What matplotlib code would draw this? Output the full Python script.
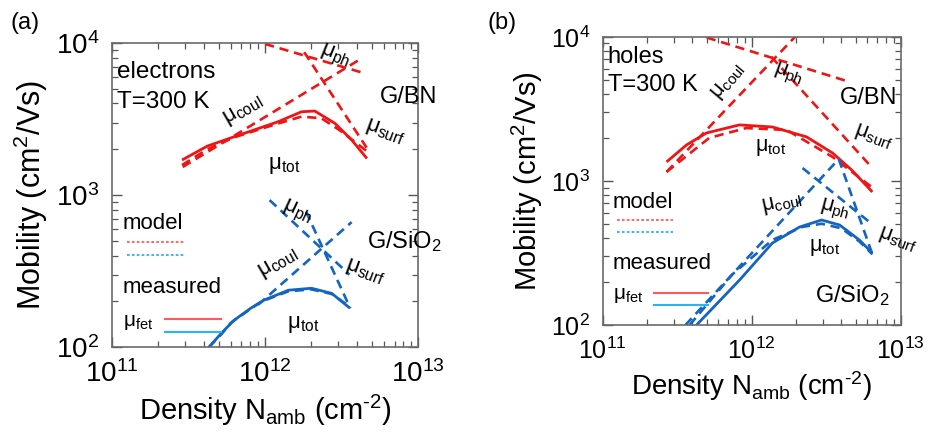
import numpy as np
import matplotlib
matplotlib.use("Agg")
import matplotlib.pyplot as plt

plt.rcParams["font.family"] = ["Liberation Sans", "DejaVu Sans"]
plt.rcParams["mathtext.fontset"] = "custom"
plt.rcParams["mathtext.rm"] = "Liberation Sans"
plt.rcParams["mathtext.it"] = "Liberation Sans:italic"
plt.rcParams["mathtext.default"] = "regular"

RED = "#f01414"
BLUE = "#1464c0"
LEG_RED = "#ff5a5a"
LEG_CYAN = "#2ab4f0"

# ---- (a) electrons ----
a_bn_meas_n = [2.87e11, 4.2e11, 6.3e11, 1.21e12, 1.73e12, 2.11e12, 2.86e12, 3.68e12, 4.62e12]
a_bn_meas_mu = [1700, 2100, 2420, 3030, 3530, 3570, 2960, 2300, 1740]
a_bn_tot_n = [2.87e11, 4.2e11, 6.3e11, 1.21e12, 1.73e12, 2.33e12, 3.05e12, 4.6e12]
a_bn_tot_mu = [1575, 2000, 2400, 2950, 3280, 3200, 2680, 1950]
a_bn_coul_n, a_bn_coul_mu = [2.9e11, 4.1e12], [1530, 7730]
a_bn_ph_n, a_bn_ph_mu = [1.0e12, 4.5e12], [9850, 6300]
a_bn_surf_n, a_bn_surf_mu = [1.8e12, 4.6e12], [8700, 2050]

a_si_meas_n = [4.3e11, 5.2e11, 6.25e11, 8.1e11, 9.85e11, 1.42e12, 2.01e12, 2.72e12, 3.57e12]
a_si_meas_mu = [100, 124, 150, 181, 204, 237, 244, 226, 181]
a_si_tot_n = [4.3e11, 5.2e11, 6.0e11, 8.0e11, 9.5e11, 1.42e12, 2.0e12, 2.72e12, 3.57e12]
a_si_tot_mu = [100, 122, 145, 178, 200, 233, 240, 224, 185]
a_si_coul_n, a_si_coul_mu = [9.0e11, 3.67e12], [190, 664]
a_si_ph_n, a_si_ph_mu = [1.07e12, 3.55e12], [927, 300]
a_si_surf_n, a_si_surf_mu = [1.85e12, 3.6e12], [780, 180]

# ---- (b) holes ----
b_bn_meas_n = [2.69e11, 3.66e11, 4.98e11, 8.3e11, 1.38e12, 2.34e12, 3.5e12, 4.7e12, 6.47e12]
b_bn_meas_mu = [1356, 1778, 2154, 2450, 2370, 2024, 1563, 1192, 839]
b_bn_tot_n = [2.69e11, 5.2e11, 9.2e11, 1.72e12, 3.5e12, 6.47e12]
b_bn_tot_mu = [1155, 1990, 2330, 2260, 1468, 900]
b_bn_coul_n, b_bn_coul_mu = [2.69e11, 2.1e12], [1155, 10800]
b_bn_ph_n, b_bn_ph_mu = [5.0e11, 4.55e12], [9900, 4870]
b_bn_surf_n, b_bn_surf_mu = [1.36e12, 6.2e12], [7260, 1292]

b_si_meas_n = [4.27e11, 8.3e11, 1.38e12, 2.1e12, 2.95e12, 3.9e12, 5.3e12, 6.47e12]
b_si_meas_mu = [100, 205, 371, 479, 536, 495, 389, 316]
b_si_tot_n = [3.84e11, 7.45e11, 1.38e12, 2.2e12, 2.95e12, 4.0e12, 5.3e12, 6.47e12]
b_si_tot_mu = [100, 225, 390, 480, 505, 470, 380, 310]
b_si_coul_n, b_si_coul_mu = [3.6e11, 3.85e12], [100, 1420]
b_si_ph_n, b_si_ph_mu = [2.2e12, 6.47e12], [1230, 500]
b_si_surf_n, b_si_surf_mu = [3.85e12, 6.47e12], [1420, 310]

# label positions (density, mobility, rotation)
a_labels = [
    (r"$\mu_{ph}$", 2.84e12, 8090, -22),
    (r"$\mu_{coul}$", 7.17e11, 3620, 30),
    (r"$\mu_{surf}$", 6.07e12, 2600, -20),
    (r"$\mu_{tot}$", 1.33e12, 1575, 0),
    (r"$\mu_{ph}$", 1.62e12, 763, -25),
    (r"$\mu_{coul}$", 1.22e12, 357, 30),
    (r"$\mu_{surf}$", 4.48e12, 311, -20),
    (r"$\mu_{tot}$", 1.78e12, 140, 0),
]
b_labels = [
    (r"$\mu_{coul}$", 7.0e11, 4870, 50),
    (r"$\mu_{ph}$", 1.75e12, 5450, -20),
    (r"$\mu_{surf}$", 6.59e12, 2023, -20),
    (r"$\mu_{tot}$", 1.34e12, 1694, 0),
    (r"$\mu_{coul}$", 1.59e12, 703, 12),
    (r"$\mu_{ph}$", 3.6e12, 629, -15),
    (r"$\mu_{surf}$", 9.55e12, 389, -20),
    (r"$\mu_{tot}$", 3.09e12, 348, 0),
]

DASH = (0, (3.5, 2.2))


def draw_set(ax, color, meas, tot, comps):
    ax.plot(meas[0], meas[1], color=color, lw=2.0, solid_capstyle="butt")
    ax.plot(tot[0], tot[1], color=color, lw=1.9, ls=DASH)
    for n, mu in comps:
        ax.plot(n, mu, color=color, lw=1.9, ls=DASH)


def style_axes(ax, fs_tick, fs_lab, lab_pad):
    ax.set_xscale("log")
    ax.set_yscale("log")
    ax.set_xlim(1e11, 1e13)
    ax.set_ylim(1e2, 1e4)
    for s in ax.spines.values():
        s.set_color("#6a6a6a")
        s.set_linewidth(1.2)
    ax.tick_params(which="both", direction="in", top=True, right=True, color="#555555")
    ax.tick_params(which="major", length=7, width=1.0, labelsize=fs_tick, pad=9)
    ax.tick_params(which="minor", length=4, width=0.9)
    ax.set_xlabel("Density N$_{amb}$ (cm$^{\u2010 2}$)", fontsize=fs_lab, labelpad=lab_pad)
    ax.set_ylabel(r"Mobility (cm$^{2}$/Vs)", fontsize=fs_lab + 1, labelpad=lab_pad)


def legend_block(ax, ys, fs):
    y_model, y_md1, y_md2, y_meas, y_fet, y_ms1, y_ms2 = ys
    ax.text(0.035, y_model, "model", transform=ax.transAxes, fontsize=fs, va="center")
    ax.plot([0.05, 0.235], [y_md1, y_md1], transform=ax.transAxes, color=LEG_RED,
            lw=1.3, ls=(0, (1.5, 1.2)))
    ax.plot([0.05, 0.235], [y_md2, y_md2], transform=ax.transAxes, color=LEG_CYAN,
            lw=1.3, ls=(0, (1.5, 1.2)))
    ax.text(0.035, y_meas, "measured", transform=ax.transAxes, fontsize=fs, va="center")
    ax.text(0.035, y_fet, r"$\mu_{fet}$", transform=ax.transAxes, fontsize=fs - 1, va="center")
    ax.plot([0.174, 0.355], [y_ms1, y_ms1], transform=ax.transAxes, color=LEG_RED, lw=1.5)
    ax.plot([0.174, 0.355], [y_ms2, y_ms2], transform=ax.transAxes, color=LEG_CYAN, lw=1.5)


fig = plt.figure(figsize=(9.4, 4.34), dpi=100)
ax1 = fig.add_axes([0.119, 0.200, 0.326, 0.701])
ax2 = fig.add_axes([0.641, 0.251, 0.317, 0.664])

# panel (a)
draw_set(ax1, RED, (a_bn_meas_n, a_bn_meas_mu), (a_bn_tot_n, a_bn_tot_mu),
         [(a_bn_coul_n, a_bn_coul_mu), (a_bn_ph_n, a_bn_ph_mu), (a_bn_surf_n, a_bn_surf_mu)])
draw_set(ax1, BLUE, (a_si_meas_n, a_si_meas_mu), (a_si_tot_n, a_si_tot_mu),
         [(a_si_coul_n, a_si_coul_mu), (a_si_ph_n, a_si_ph_mu), (a_si_surf_n, a_si_surf_mu)])
style_axes(ax1, 20, 21, 4)
for txt, n, mu, rot in a_labels:
    ax1.text(n, mu, txt, fontsize=16, rotation=rot, ha="center", va="center",
             rotation_mode="anchor", clip_on=False)
ax1.text(0.016, 0.905, "electrons", transform=ax1.transAxes, fontsize=17.5, va="center")
ax1.text(0.016, 0.806, "T=300 K", transform=ax1.transAxes, fontsize=17.5, va="center")
ax1.text(5.62e12, 4415, "G/BN", fontsize=17, va="center", clip_on=False)
ax1.text(4.62e12, 498, r"G/SiO$_2$", fontsize=17, va="center", clip_on=False)
legend_block(ax1, [0.408, 0.345, 0.303, 0.197, 0.082, 0.092, 0.049], 16)

# panel (b)
draw_set(ax2, RED, (b_bn_meas_n, b_bn_meas_mu), (b_bn_tot_n, b_bn_tot_mu),
         [(b_bn_coul_n, b_bn_coul_mu), (b_bn_ph_n, b_bn_ph_mu), (b_bn_surf_n, b_bn_surf_mu)])
draw_set(ax2, BLUE, (b_si_meas_n, b_si_meas_mu), (b_si_tot_n, b_si_tot_mu),
         [(b_si_coul_n, b_si_coul_mu), (b_si_ph_n, b_si_ph_mu), (b_si_surf_n, b_si_surf_mu)])
style_axes(ax2, 18, 20, 4)
for txt, n, mu, rot in b_labels:
    ax2.text(n, mu, txt, fontsize=15.5, rotation=rot, ha="center", va="center",
             rotation_mode="anchor", clip_on=False)
ax2.text(0.017, 0.93, "holes", transform=ax2.transAxes, fontsize=17, va="center")
ax2.text(0.017, 0.833, "T=300 K", transform=ax2.transAxes, fontsize=17, va="center")
ax2.text(3.9e12, 3770, "G/BN", fontsize=17, va="center")
ax2.text(2.65e12, 161, r"G/SiO$_2$", fontsize=17, va="center")
legend_block(ax2, [0.427, 0.365, 0.323, 0.215, 0.104, 0.111, 0.069], 16)

fig.text(0.011, 0.947, "(a)", fontsize=17, va="center")
fig.text(0.519, 0.947, "(b)", fontsize=17, va="center")

fig.savefig("out.png", dpi=100)
